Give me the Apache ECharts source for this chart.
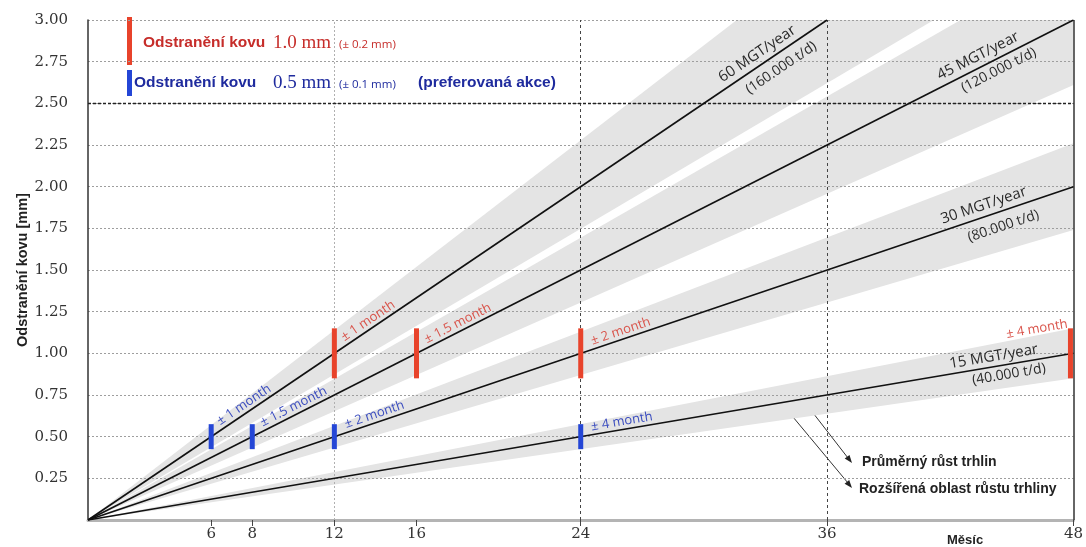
<!DOCTYPE html>
<html>
<head>
<meta charset="utf-8">
<script src="https://cdn.jsdelivr.net/npm/echarts@6/dist/echarts.min.js"></script>
<style>
  html, body { margin: 0; padding: 0; background: #ffffff; }
  #chart { width: 1086px; height: 547px; }
</style>
</head>
<body>
<div id="chart"></div>
<script>
// ---- data: months (x) vs. metal removal in mm (y) ----
const monthTicks = [6, 8, 12, 16, 24, 36, 48];

const trafficLabels = ['60 MGT/year', '45 MGT/year', '30 MGT/year', '15 MGT/year'];
const tonnageLabels = ['(160.000 t/d)', '(120.000 t/d)', '(80.000 t/d)', '(40.000 t/d)'];

// average crack growth for each traffic load, [month, mm]
const growth60 = [[0, 0], [36, 3.0]];
const growth45 = [[0, 0], [48, 3.0]];
const growth30 = [[0, 0], [48, 2.0]];
const growth15 = [[0, 0], [48, 1.0]];

// extended crack growth zones, polygon corners [month, mm]
const spread60 = [[0, 0], [31.6, 3.0], [41.2, 3.0]];
const spread45 = [[0, 0], [42.5, 3.0], [48, 3.0], [48, 2.61]];
const spread30 = [[0, 0], [48, 2.26], [48, 1.74]];
const spread15 = [[0, 0], [48, 1.15], [48, 0.85]];

// grinding actions: 1.0 mm removal
const removal10 = [[12, 1.0], [16, 1.0], [24, 1.0], [48, 1.0]];
const removal10Range = 0.15;
const removal10Text = ['± 1 month', '± 1.5 month', '± 2 month', '± 4 month'];

// grinding actions: 0.5 mm removal (preferred)
const removal05 = [[6, 0.5], [8, 0.5], [12, 0.5], [24, 0.5]];
const removal05Range = 0.075;
const removal05Text = ['± 1 month', '± 1.5 month', '± 2 month', '± 4 month'];

// ---- presentation ----
const growthLines = [growth60, growth45, growth30, growth15];
const spreads = [spread60, spread45, spread30, spread15];

const SERIF = '"DejaVu Serif", "Liberation Serif", serif';
const SANS = '"Liberation Sans", Arial, sans-serif';
const THIN = '"Open Sans", "Liberation Sans", sans-serif';

const RED_BAR = '#e8432b';
const BLUE_BAR = '#2446d6';
const RED_TEXT = '#c62d2a';
const BLUE_TEXT = '#1f2b9e';

// month along each growth line where its traffic caption sits
const captionAt = [32.9, 43.6, 43.8, 44.2];
// perpendicular offsets (px) of the two caption rows from the line
const captionAbove = [-11, -11, -11, -10];
const captionBelow = [14, 11, 15, 10];

// tolerance caption placement: offset along / across the line (px)
const redCaptionPlace = [
  { dx: 15, dy: -8, align: 'left', shift: 0 },
  { dx: 14, dy: -8, align: 'left', shift: 0 },
  { dx: 14, dy: -8, align: 'left', shift: 0 },
  { dx: -1, dy: -30, align: 'right', shift: -3 }
];
const blueCaptionPlace = [
  { dx: 14, dy: -8, align: 'left', shift: 0 },
  { dx: 14, dy: -8, align: 'left', shift: 0 },
  { dx: 14, dy: -8, align: 'left', shift: 0 },
  { dx: 12, dy: -8, align: 'left', shift: 0 }
];

function lineAngle(api, a, b) {
  const pa = api.coord(a), pb = api.coord(b);
  return Math.atan2(pa[1] - pb[1], pb[0] - pa[0]);
}

function removalRenderer(range, texts, place, barColor, textColor) {
  return function (params, api) {
    const i = params.dataIndex;
    const m = api.value(0), v = api.value(1);
    const p = api.coord([m, v]);
    const top = api.coord([m, v + range]);
    const bot = api.coord([m, v - range]);
    const ang = lineAngle(api, [0, 0], [m, v]);
    const pl = place[i];
    return {
      type: 'group',
      children: [
        {
          type: 'rect',
          shape: { x: p[0] - 2.5 + pl.shift, y: top[1], width: 5, height: bot[1] - top[1] },
          style: { fill: barColor }
        },
        {
          type: 'text',
          x: p[0], y: p[1], rotation: ang,
          style: {
            text: texts[i], x: pl.dx, y: pl.dy,
            align: pl.align, verticalAlign: 'middle',
            fill: textColor, fontSize: 13, fontFamily: THIN
          }
        }
      ]
    };
  };
}

const chart = echarts.init(document.getElementById('chart'), null, { renderer: 'canvas' });

const option = {
  animation: false,
  backgroundColor: '#ffffff',
  grid: { left: 88, right: 5, top: 20, bottom: 27, containLabel: false },
  xAxis: {
    type: 'value', min: 0, max: 48, z: 3,
    axisLine: { show: true, lineStyle: { color: '#b4b4b4', width: 3 } },
    axisTick: { show: true, customValues: monthTicks, length: 6, lineStyle: { color: '#444', width: 1 } },
    axisLabel: {
      customValues: monthTicks, color: '#333', fontFamily: SERIF, fontSize: 15, margin: 7
    },
    splitLine: { show: false }
  },
  yAxis: {
    type: 'value', min: 0, max: 3, interval: 0.25, z: 3,
    name: 'Odstranění kovu [mm]',
    nameLocation: 'middle', nameGap: 58, nameRotate: 90, nameMoveOverlap: false,
    nameTextStyle: { fontFamily: SANS, fontWeight: 'bold', fontSize: 14.5, color: '#222' },
    axisLine: { show: true, lineStyle: { color: '#333', width: 1.5 } },
    axisTick: { show: false },
    axisLabel: {
      color: '#333', fontFamily: SERIF, fontSize: 15, margin: 20,
      formatter: v => (v === 0 ? '' : v.toFixed(2))
    },
    splitLine: { show: true, lineStyle: { color: '#9e9e9e', width: 1, type: [2, 2] } }
  },
  series: [
    {
      // extended crack growth zones
      type: 'custom', name: 'spread', z: 1, silent: true,
      data: spreads.map(() => [0, 0]),
      renderItem: (params, api) => ({
        type: 'polygon',
        shape: { points: spreads[params.dataIndex].map(pt => api.coord(pt)) },
        style: { fill: '#e4e4e4' }
      })
    },
    {
      // month guides, right border and the 2.50 mm limit
      type: 'line', name: 'guides', z: 3, silent: true,
      data: [[0, 0]], symbol: 'none', lineStyle: { width: 0 },
      markLine: {
        silent: true, symbol: ['none', 'none'], label: { show: false }, animation: false,
        data: [
          { xAxis: 12, lineStyle: { color: '#b0b0b0', type: [2, 2], width: 1 } },
          { xAxis: 24, lineStyle: { color: '#444', type: [3, 3], width: 1 } },
          { xAxis: 36, lineStyle: { color: '#444', type: [3, 3], width: 1 } },
          { xAxis: 48, lineStyle: { color: '#333', type: 'solid', width: 1.5 } },
          { yAxis: 2.5, lineStyle: { color: '#222', type: [3, 2], width: 1.4 } }
        ]
      }
    },
    ...growthLines.map((d, i) => ({
      type: 'line', name: trafficLabels[i], z: 5, silent: true,
      data: d, symbol: 'none',
      lineStyle: { color: '#111', width: 1.6 }
    })),
    {
      // traffic captions along each growth line
      type: 'custom', name: 'captions', z: 6, silent: true,
      data: growthLines.map(() => [0, 0]),
      renderItem: (params, api) => {
        const i = params.dataIndex;
        const ln = growthLines[i];
        const ang = lineAngle(api, ln[0], ln[1]);
        const rate = (ln[1][1] - ln[0][1]) / (ln[1][0] - ln[0][0]);
        const m = captionAt[i];
        const p = api.coord([m, rate * m]);
        return {
          type: 'group',
          children: [
            {
              type: 'text', x: p[0], y: p[1], rotation: ang,
              style: {
                text: trafficLabels[i], x: 0, y: captionAbove[i], align: 'center', verticalAlign: 'middle',
                fill: '#2a2a2a', fontSize: 15, fontFamily: THIN
              }
            },
            {
              type: 'text', x: p[0], y: p[1], rotation: ang,
              style: {
                text: tonnageLabels[i], x: 12, y: captionBelow[i], align: 'center', verticalAlign: 'middle',
                fill: '#2a2a2a', fontSize: 14, fontFamily: THIN
              }
            }
          ]
        };
      }
    },
    {
      type: 'custom', name: 'Odstranění kovu 1.0 mm', z: 7, silent: true,
      data: removal10,
      renderItem: removalRenderer(removal10Range, removal10Text, redCaptionPlace, RED_BAR, '#d9534a')
    },
    {
      type: 'custom', name: 'Odstranění kovu 0.5 mm', z: 7, silent: true,
      data: removal05,
      renderItem: removalRenderer(removal05Range, removal05Text, blueCaptionPlace, BLUE_BAR, '#3a4cbf')
    }
  ],
  graphic: [
    // key for the two grinding actions
    { type: 'rect', shape: { x: 127, y: 17, width: 5, height: 48 }, style: { fill: RED_BAR } },
    { type: 'text', x: 143, y: 43, style: { text: 'Odstranění kovu', fill: RED_TEXT, fontFamily: SANS, fontWeight: 'bold', fontSize: 15.5, verticalAlign: 'middle' } },
    { type: 'text', x: 273, y: 43, style: { text: '1.0 mm', fill: RED_TEXT, fontFamily: '"Liberation Serif", serif', fontSize: 19, verticalAlign: 'middle' } },
    { type: 'text', x: 339, y: 45, style: { text: '(± 0.2 mm)', fill: RED_TEXT, fontFamily: THIN, fontSize: 11.5, verticalAlign: 'middle' } },
    { type: 'rect', shape: { x: 127, y: 70, width: 5, height: 26 }, style: { fill: BLUE_BAR } },
    { type: 'text', x: 134, y: 83, style: { text: 'Odstranění kovu', fill: BLUE_TEXT, fontFamily: SANS, fontWeight: 'bold', fontSize: 15.5, verticalAlign: 'middle' } },
    { type: 'text', x: 273, y: 83, style: { text: '0.5 mm', fill: BLUE_TEXT, fontFamily: '"Liberation Serif", serif', fontSize: 19, verticalAlign: 'middle' } },
    { type: 'text', x: 339, y: 85, style: { text: '(± 0.1 mm)', fill: BLUE_TEXT, fontFamily: THIN, fontSize: 11.5, verticalAlign: 'middle' } },
    { type: 'text', x: 418, y: 83, style: { text: '(preferovaná akce)', fill: BLUE_TEXT, fontFamily: SANS, fontWeight: 'bold', fontSize: 15.5, verticalAlign: 'middle' } },

    // pointers explaining the line and the grey zone
    { type: 'line', shape: { x1: 803, y1: 400, x2: 848, y2: 458 }, style: { stroke: '#333', lineWidth: 1 } },
    { type: 'polygon', shape: { points: [[852, 463], [844.7, 458.5], [849.5, 454.9]] }, style: { fill: '#222' } },
    { type: 'line', shape: { x1: 793, y1: 417, x2: 848, y2: 483 }, style: { stroke: '#333', lineWidth: 1 } },
    { type: 'polygon', shape: { points: [[852, 488], [844.6, 483.7], [849.2, 479.9]] }, style: { fill: '#222' } },
    { type: 'text', x: 862, y: 462, style: { text: 'Průměrný růst trhlin', fill: '#222', fontFamily: SANS, fontWeight: 'bold', fontSize: 14, verticalAlign: 'middle' } },
    { type: 'text', x: 859, y: 489, style: { text: 'Rozšířená oblast růstu trhliny', fill: '#222', fontFamily: SANS, fontWeight: 'bold', fontSize: 14, verticalAlign: 'middle' } },

    // x axis title
    { type: 'text', x: 947, y: 540, style: { text: 'Měsíc', fill: '#222', fontFamily: SANS, fontWeight: 'bold', fontSize: 13, verticalAlign: 'middle' } }
  ]
};

chart.setOption(option);
</script>
</body>
</html>
